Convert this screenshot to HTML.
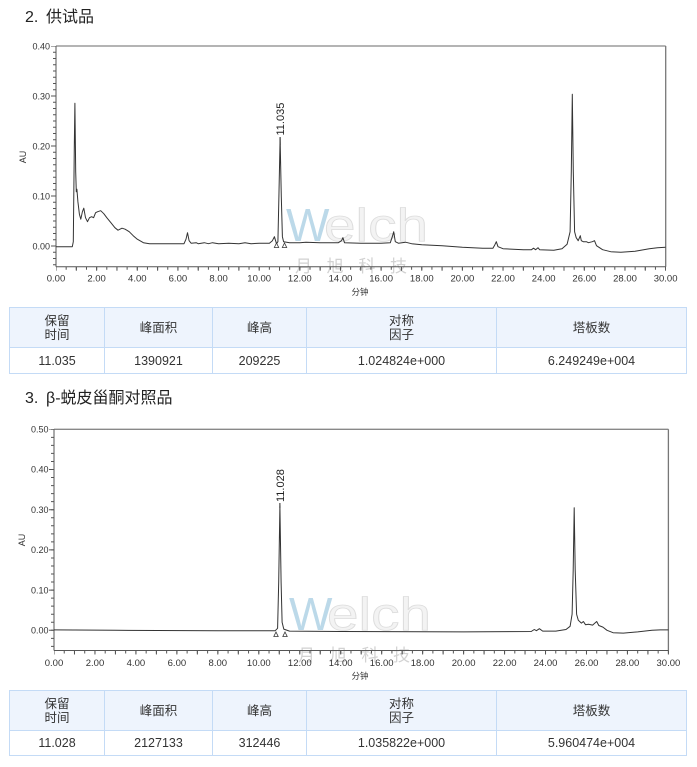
<!DOCTYPE html>
<html><head><meta charset="utf-8">
<style>
html,body{margin:0;padding:0;background:#fff;}
body{width:697px;height:767px;position:relative;overflow:hidden;font-family:"Liberation Sans","Noto Sans CJK SC",sans-serif;color:#333;}
.title{position:absolute;font-size:16px;line-height:16px;color:#222;white-space:nowrap;}
table{position:absolute;border-collapse:collapse;table-layout:fixed;font-size:12.5px;color:#333;}
td{border:1px solid #c4dbf6;text-align:center;padding:0;line-height:14px;}
tr.h td{background:#eef4fd;}
svg{position:absolute;left:0;top:0;}
</style></head>
<body>
<div class="title" style="left:25px;top:10px;">2.</div>
<div class="title" style="left:46px;top:10px;">供试品</div>
<div class="title" style="left:25px;top:391px;">3.</div>
<div class="title" style="left:46px;top:391px;">β-蜕皮甾酮对照品</div>

<svg width="697" height="767" viewBox="0 0 697 767" font-family="Liberation Sans, sans-serif">
<!-- ============ CHART 1 ============ -->
<g>
<!-- watermark -->
<g opacity="0.75">
<text x="286" y="241" font-size="46" fill="#a6cde2">W</text>
<text x="324" y="241" font-size="46" fill="#efefef" stroke="#d2d2d2" stroke-width="0.8" textLength="104" lengthAdjust="spacingAndGlyphs">elch</text>
<text x="295" y="272" font-size="17" fill="#c4c4c4" textLength="112" lengthAdjust="spacing" font-family="Noto Sans CJK SC, sans-serif">月旭科技</text>
</g>
<!-- frame -->
<line x1="56" y1="46" x2="665.7" y2="46" stroke="#888" stroke-width="1.3"/>
<line x1="665.7" y1="46" x2="665.7" y2="266.7" stroke="#777" stroke-width="1.3"/>
<line x1="56" y1="46" x2="56" y2="266.7" stroke="#555" stroke-width="1"/>
<line x1="56" y1="266.7" x2="665.7" y2="266.7" stroke="#555" stroke-width="1"/>
<!-- y ticks -->
<line x1="54.5" y1="46" x2="54.5" y2="267" stroke="#555" stroke-width="3" stroke-dasharray="1 5.25" stroke-dashoffset="0.5"/>
<line x1="53.5" y1="46" x2="53.5" y2="267" stroke="#555" stroke-width="5" stroke-dasharray="1 49" stroke-dashoffset="0.5"/>
<!-- x ticks -->
<line x1="56" y1="268.2" x2="666" y2="268.2" stroke="#555" stroke-width="3" stroke-dasharray="1 9.16" stroke-dashoffset="0.5"/>
<line x1="56" y1="268.7" x2="666" y2="268.7" stroke="#555" stroke-width="4" stroke-dasharray="1 19.32" stroke-dashoffset="0.5"/>
<!-- y labels -->
<g font-size="9" fill="#333" text-anchor="end">
<text x="50" y="49.5">0.40</text>
<text x="50" y="99.7">0.30</text>
<text x="50" y="149.7">0.20</text>
<text x="50" y="199.7">0.10</text>
<text x="50" y="249.7">0.00</text>
</g>
<text transform="translate(26,157) rotate(-90)" font-size="9" fill="#333" text-anchor="middle">AU</text>
<!-- x labels -->
<g font-size="9.5" fill="#333" text-anchor="middle">
<text x="56" y="281.5">0.00</text>
<text x="96.6" y="281.5">2.00</text>
<text x="137.3" y="281.5">4.00</text>
<text x="177.9" y="281.5">6.00</text>
<text x="218.6" y="281.5">8.00</text>
<text x="259.2" y="281.5">10.00</text>
<text x="299.8" y="281.5">12.00</text>
<text x="340.5" y="281.5">14.00</text>
<text x="381.1" y="281.5">16.00</text>
<text x="421.8" y="281.5">18.00</text>
<text x="462.4" y="281.5">20.00</text>
<text x="503.0" y="281.5">22.00</text>
<text x="543.7" y="281.5">24.00</text>
<text x="584.3" y="281.5">26.00</text>
<text x="625.0" y="281.5">28.00</text>
<text x="665.6" y="281.5">30.00</text>
</g>
<text x="360" y="295" font-size="8.5" fill="#333" text-anchor="middle" font-family="Noto Sans CJK SC, sans-serif">分钟</text>
<!-- peak label -->
<text transform="translate(284,135.5) rotate(-90)" font-size="11" fill="#222">11.035</text>
<line x1="280.1" y1="137" x2="280.1" y2="145" stroke="#222" stroke-width="1"/>
<!-- trace -->
<polyline fill="none" stroke="#333" stroke-width="1" stroke-linejoin="round" points="56,246.7 72.3,246.7 73.3,241.7 74.3,146.7 74.9,103.2 75.7,171.7 76.3,191.7 76.9,189.2 77.9,201.7 79.4,214.2 80.8,219.2 82.4,211.7 83.8,208.2 85.5,217.7 87.5,221.7 89.5,217.7 91.6,216.7 93.6,217.7 95.6,212.7 97.7,211.7 100.7,210.7 103.8,213.7 106.8,217.7 110.9,222.7 114.9,227.7 118.0,230.2 122.0,228.2 125.1,229.2 129.2,231.7 133.2,235.7 137.3,239.2 143.4,242.7 149.5,243.7 167.8,243.7 184.0,243.7 186.0,239.2 187.5,232.7 189.1,240.7 191.1,243.2 196.2,242.7 198.2,243.7 204.3,242.7 208.4,243.7 212.5,242.7 218.6,243.7 228.7,243.2 238.9,243.7 245.0,242.7 251.1,243.7 259.2,243.2 269.4,243.2 272.4,240.7 274.4,236.7 276.5,243.7 277.9,241.7 278.9,196.7 280.1,138.2 281.3,196.7 282.4,236.7 283.6,241.7 289.7,242.7 299.8,242.7 305.9,242.2 320.2,242.7 338.4,242.7 341.5,240.7 342.9,237.7 344.5,242.7 360.8,243.2 381.1,243.2 390.3,242.7 392.3,236.7 393.7,231.7 395.3,241.7 398.4,243.2 405.5,242.2 411.6,243.7 421.8,244.7 442.1,245.7 462.4,247.2 482.7,248.2 492.9,248.2 494.9,244.7 496.3,241.7 498.0,246.7 503.0,248.7 523.4,249.7 531.5,249.7 533.5,248.2 535.6,249.7 538.0,247.7 539.6,249.7 553.8,250.2 562.0,248.7 567.1,244.2 570.1,231.7 571.3,171.7 572.3,94.2 573.3,171.7 574.6,231.7 576.2,237.7 578.2,240.7 580.3,235.7 581.3,240.7 583.3,241.7 586.4,241.7 588.4,242.7 592.4,241.7 594.5,240.7 596.5,245.7 602.6,249.7 610.7,251.7 620.9,252.2 635.1,251.2 649.3,248.7 657.5,247.7 665.6,247.2"/>
<!-- markers -->
<polygon points="274.3,247.5 276.5,243 278.7,247.5" fill="#fff" stroke="#333" stroke-width="0.8"/>
<polygon points="282.3,247.5 284.5,243 286.7,247.5" fill="#fff" stroke="#333" stroke-width="0.8"/>
</g>

<!-- ============ CHART 2 ============ -->
<g>
<g opacity="0.75" transform="translate(3,389)">
<text x="286" y="241" font-size="46" fill="#a6cde2">W</text>
<text x="324" y="241" font-size="46" fill="#efefef" stroke="#d2d2d2" stroke-width="0.8" textLength="104" lengthAdjust="spacingAndGlyphs">elch</text>
<text x="295" y="272" font-size="17" fill="#c4c4c4" textLength="112" lengthAdjust="spacing" font-family="Noto Sans CJK SC, sans-serif">月旭科技</text>
</g>
<line x1="54" y1="429.3" x2="668.4" y2="429.3" stroke="#888" stroke-width="1.3"/>
<line x1="668.4" y1="429.3" x2="668.4" y2="650.5" stroke="#777" stroke-width="1.3"/>
<line x1="54" y1="429.3" x2="54" y2="650.5" stroke="#555" stroke-width="1"/>
<line x1="54" y1="650.5" x2="668.4" y2="650.5" stroke="#555" stroke-width="1"/>
<line x1="52.5" y1="429.3" x2="52.5" y2="651" stroke="#555" stroke-width="3" stroke-dasharray="1 7.04" stroke-dashoffset="0.5"/>
<line x1="51.5" y1="429.3" x2="51.5" y2="651" stroke="#555" stroke-width="5" stroke-dasharray="1 39.2" stroke-dashoffset="0.5"/>
<line x1="54" y1="652" x2="669" y2="652" stroke="#555" stroke-width="3" stroke-dasharray="1 9.24" stroke-dashoffset="0.5"/>
<line x1="54" y1="652.5" x2="669" y2="652.5" stroke="#555" stroke-width="4" stroke-dasharray="1 19.48" stroke-dashoffset="0.5"/>
<g font-size="9" fill="#333" text-anchor="end">
<text x="48.5" y="432.5">0.50</text>
<text x="48.5" y="472.7">0.40</text>
<text x="48.5" y="512.9">0.30</text>
<text x="48.5" y="553.1">0.20</text>
<text x="48.5" y="593.3">0.10</text>
<text x="48.5" y="633.3">0.00</text>
</g>
<text transform="translate(25,540) rotate(-90)" font-size="9" fill="#333" text-anchor="middle">AU</text>
<g font-size="9.5" fill="#333" text-anchor="middle">
<text x="54" y="666">0.00</text>
<text x="95.0" y="666">2.00</text>
<text x="135.9" y="666">4.00</text>
<text x="176.9" y="666">6.00</text>
<text x="217.8" y="666">8.00</text>
<text x="258.8" y="666">10.00</text>
<text x="299.8" y="666">12.00</text>
<text x="340.7" y="666">14.00</text>
<text x="381.7" y="666">16.00</text>
<text x="422.6" y="666">18.00</text>
<text x="463.6" y="666">20.00</text>
<text x="504.6" y="666">22.00</text>
<text x="545.5" y="666">24.00</text>
<text x="586.5" y="666">26.00</text>
<text x="627.4" y="666">28.00</text>
<text x="668.4" y="666">30.00</text>
</g>
<text x="360" y="679" font-size="8.5" fill="#333" text-anchor="middle" font-family="Noto Sans CJK SC, sans-serif">分钟</text>
<text transform="translate(284,502) rotate(-90)" font-size="11" fill="#222">11.028</text>
<line x1="279.9" y1="503" x2="279.9" y2="508" stroke="#222" stroke-width="1"/>
<polyline fill="none" stroke="#333" stroke-width="1" stroke-linejoin="round" points="54,629.9 115.4,630.3 217.8,630.7 275.2,630.7 277.6,628.3 278.7,582.1 279.9,505.7 281.1,582.1 282.1,622.3 283.8,629.1 289.5,631.1 340.7,631.5 463.6,631.9 531.2,631.5 534.3,629.5 536.4,630.7 539.4,628.7 542.7,631.1 555.8,631.1 566.0,629.5 570.1,626.3 572.1,614.2 573.2,570.0 574.2,507.7 575.2,570.0 576.6,614.2 578.3,620.3 581.4,623.1 583.4,621.5 585.5,624.7 588.5,624.3 592.6,625.1 596.7,621.5 598.8,625.5 602.9,627.1 607.0,630.3 613.1,632.7 623.3,633.1 637.7,631.9 652.0,630.3 660.2,629.9 668.4,629.9"/>
<polygon points="273.8,636.5 276,632 278.2,636.5" fill="#fff" stroke="#333" stroke-width="0.8"/>
<polygon points="282.8,636.5 285,632 287.2,636.5" fill="#fff" stroke="#333" stroke-width="0.8"/>
</g>
</svg>

<table style="left:9px;top:307px;width:677px;">
<colgroup><col style="width:95px"><col style="width:108px"><col style="width:94px"><col style="width:190px"><col style="width:190px"></colgroup>
<tr class="h" style="height:40px;"><td>保留<br>时间</td><td>峰面积</td><td>峰高</td><td>对称<br>因子</td><td>塔板数</td></tr>
<tr style="height:26px;"><td>11.035</td><td>1390921</td><td>209225</td><td>1.024824e+000</td><td>6.249249e+004</td></tr>
</table>

<table style="left:9px;top:690px;width:677px;">
<colgroup><col style="width:95px"><col style="width:108px"><col style="width:94px"><col style="width:190px"><col style="width:190px"></colgroup>
<tr class="h" style="height:40px;"><td>保留<br>时间</td><td>峰面积</td><td>峰高</td><td>对称<br>因子</td><td>塔板数</td></tr>
<tr style="height:25px;"><td>11.028</td><td>2127133</td><td>312446</td><td>1.035822e+000</td><td>5.960474e+004</td></tr>
</table>
</body></html>
